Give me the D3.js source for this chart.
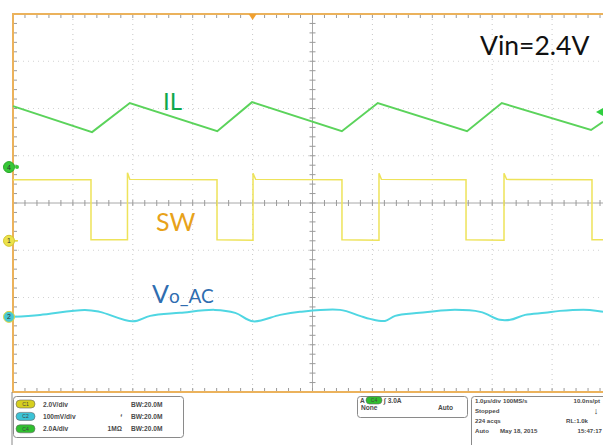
<!DOCTYPE html>
<html><head><meta charset="utf-8">
<script src="https://cdn.jsdelivr.net/npm/d3@7"></script>
<style>body{margin:0;background:#fff}svg{display:block}</style>
</head><body>
<svg id="c" width="603" height="445"></svg>
<script>
// ---------------- data (read from the scope capture) ----------------
const timeDivs = d3.range(0, 11);          // 1.0 µs/div, 10 divisions
const vertDivs = d3.range(-4, 5);          // 8 vertical divisions
// Channel 4: inductor current IL (2.0 A/div)
const ilOffsetDiv = 0.76, ilPerDiv = 2.0;
const ilTime = [0, 1.32, 1.95, 3.41, 3.99, 5.49, 6.09, 7.58, 8.16, 9.65, 9.85];
const ilAmps = [2.58, 1.48, 2.71, 1.52, 2.75, 1.52, 2.71, 1.52, 2.71, 1.57, 1.92];
const trigArrowAmps = 2.33;
// Channel 1: switch node SW (2.0 V/div)
const swOffsetDiv = -0.80, swPerDiv = 2.0;
const swTime = [0, 1.302, 1.302, 1.911, 1.911, 1.95, 3.406, 3.406, 4.007, 4.007, 4.05, 5.492, 5.492, 6.110, 6.110, 6.15, 7.563, 7.563, 8.197, 8.197, 8.24, 9.666, 9.666, 9.85];
const swVolt = [2.58, 2.58, 0.04, 0.04, 2.88, 2.60, 2.58, 0.04, 0.02, 2.86, 2.60, 2.58, 0.04, 0.02, 2.86, 2.60, 2.58, 0.04, 0.02, 2.86, 2.60, 2.58, 0.04, 0.04];
// Channel 2: output ripple Vo_AC (100 mV/div)
const voOffsetDiv = -2.41, voPerDiv = 100;
const voTime = [0, 0.45, 1.20, 1.45, 2.00, 2.29, 2.79, 3.37, 3.71, 4.01, 4.46, 4.79, 5.46, 5.79, 5.96, 6.21, 6.38, 6.79, 7.30, 7.80, 8.13, 8.30, 8.55, 8.88, 9.13, 9.63, 9.85];
const voMv   = [0, 4.2, 14.8, 10.6, -9.5, 2.1, 8.5, 14.8, 8.5, -9.5, 4.2, 10.6, 14.8, 2.1, -4.2, -8.5, 2.1, 8.5, 14.8, 10.6, -6.3, -6.3, 4.2, 8.5, 12.7, 14.8, 10.6];
// annotations
const traceLabels = ["IL", "SW", "V", "o_AC"];
const vinLabel = "Vin=2.4V";
const chanRows = [["C1", "2.0V/div", "", "BW:20.0M"], ["C2", "100mV/div", "ᶠ", "BW:20.0M"], ["C4", "2.0A/div", "1MΩ", "BW:20.0M"]];
const trigRow = ["A", "C4", "∫ 3.0A", "None", "Auto"];
const infoRows = [["1.0µs/div", "100MS/s", "10.0ns/pt"], ["Stopped", "", ""], ["224 acqs", "", "RL:1.0k"], ["Auto", "May 18, 2015", "15:47:17"]];

// ---------------- drawing ----------------
const svg = d3.select("#c");
const x = d3.scaleLinear().domain([0, 10]).range([13, 612]);
const y = d3.scaleLinear().domain([-4, 4]).range([392, 14]);
const ORANGE = "#ebb25c", TICK = "#9a9a9a";

// graticule (dotted)
const g = svg.append("g");
timeDivs.filter(d => d > 0 && d < 10 && d !== 5).forEach(d =>
  g.append("line").attr("x1", x(d)).attr("x2", x(d)).attr("y1", y(4)).attr("y2", y(-4))
   .attr("stroke", "#c8c8c8").attr("stroke-width", 1).attr("stroke-dasharray", "1,4"));
vertDivs.filter(d => d > -4 && d < 4 && d !== 0).forEach(d =>
  g.append("line").attr("x1", x(0)).attr("x2", x(10)).attr("y1", y(d)).attr("y2", y(d))
   .attr("stroke", "#d2d2d2").attr("stroke-width", 1).attr("stroke-dasharray", "1,4"));

// centre axes with minor ticks
g.append("line").attr("x1", x(0)).attr("x2", x(10)).attr("y1", y(0)).attr("y2", y(0)).attr("stroke", "#a8a8a8");
g.append("line").attr("x1", x(5)).attr("x2", x(5)).attr("y1", y(4)).attr("y2", y(-4)).attr("stroke", "#a8a8a8");
const minorT = d3.range(0, 10.001, 0.2), minorV = d3.range(-4, 4.001, 0.2);
minorT.forEach(t => {
  g.append("line").attr("x1", x(t)).attr("x2", x(t)).attr("y1", y(0) - 3).attr("y2", y(0) + 3).attr("stroke", TICK);
  g.append("line").attr("x1", x(t)).attr("x2", x(t)).attr("y1", y(4)).attr("y2", y(4) + 4).attr("stroke", TICK);
  g.append("line").attr("x1", x(t)).attr("x2", x(t)).attr("y1", y(-4)).attr("y2", y(-4) - 4).attr("stroke", TICK);
});
minorV.forEach(v => {
  g.append("line").attr("x1", x(5) - 3).attr("x2", x(5) + 3).attr("y1", y(v)).attr("y2", y(v)).attr("stroke", TICK);
  g.append("line").attr("x1", x(0)).attr("x2", x(0) + 4).attr("y1", y(v)).attr("y2", y(v)).attr("stroke", TICK);
});

// frame (orange)
g.append("line").attr("x1", x(0)).attr("x2", 603).attr("y1", y(4)).attr("y2", y(4)).attr("stroke", ORANGE).attr("stroke-width", 2);
g.append("line").attr("x1", x(0)).attr("x2", 603).attr("y1", y(-4)).attr("y2", y(-4)).attr("stroke", ORANGE).attr("stroke-width", 2);
g.append("line").attr("x1", x(0)).attr("x2", x(0)).attr("y1", y(4) - 1).attr("y2", y(-4) + 1).attr("stroke", ORANGE).attr("stroke-width", 2);
// trigger position marker
g.append("path").attr("d", `M${x(4) - 4},${y(4)} L${x(4) + 4},${y(4)} L${x(4)},${y(4) + 6}Z`).attr("fill", "#f0a030");

// traces
const line = d3.line();
const ilPts = ilTime.map((t, i) => [x(t), y(ilOffsetDiv + ilAmps[i] / ilPerDiv)]);
const swPts = swTime.map((t, i) => [x(t), y(swOffsetDiv + swVolt[i] / swPerDiv)]);
const voPts = voTime.map((t, i) => [x(t), y(voOffsetDiv + voMv[i] / voPerDiv)]);
svg.append("path").attr("d", line(swPts)).attr("fill", "none").attr("stroke", "#eee35a").attr("stroke-width", 1.5);
svg.append("path").attr("d", d3.line().curve(d3.curveCatmullRom)(voPts)).attr("fill", "none").attr("stroke", "#4fd6e2").attr("stroke-width", 2);
svg.append("path").attr("d", line(ilPts)).attr("fill", "none").attr("stroke", "#5bd35b").attr("stroke-width", 2);

// channel ground markers
function marker(cy, fill, stroke, label) {
  svg.append("circle").attr("cx", 9).attr("cy", cy).attr("r", 5.5).attr("fill", fill).attr("stroke", stroke).attr("stroke-width", 1);
  svg.append("text").attr("x", 9).attr("y", cy + 2.5).attr("text-anchor", "middle").attr("font-size", 7)
     .attr("font-family", "Liberation Sans").attr("fill", "#333").text(label);
}
marker(y(ilOffsetDiv), "#36c836", "#2aa82a", "4");
svg.append("circle").attr("cx", 17).attr("cy", y(ilOffsetDiv)).attr("r", 2).attr("fill", "#36c836");
marker(y(swOffsetDiv), "#ece24a", "#d4c830", "1");
svg.append("line").attr("x1", 15).attr("x2", 18).attr("y1", y(swOffsetDiv)).attr("y2", y(swOffsetDiv)).attr("stroke", "#e8dc3c").attr("stroke-width", 1.5);
marker(y(voOffsetDiv), "#46c8d2", "#e2d640", "2");
// trigger level arrow (right)
const trigY = y(ilOffsetDiv + trigArrowAmps / ilPerDiv);
svg.append("path").attr("d", `M596,${trigY} L603,${trigY - 4} L603,${trigY + 4}Z`).attr("fill", "#2fcf3f");

// labels
const FONT = "Lato, 'Open Sans', sans-serif";
svg.append("text").attr("x", 163).attr("y", 110).attr("font-family", FONT).attr("font-size", 24).attr("fill", "#0fa84c").text(traceLabels[0]);
svg.append("text").attr("x", 156).attr("y", 231).attr("font-family", FONT).attr("font-size", 25).attr("fill", "#e8a21a").text(traceLabels[1]);
const vo = svg.append("text").attr("x", 152).attr("y", 303).attr("font-family", FONT).attr("fill", "#2f6db0");
vo.append("tspan").attr("font-size", 25).text(traceLabels[2]);
vo.append("tspan").attr("font-size", 19).text(traceLabels[3]);
svg.append("text").attr("x", 480).attr("y", 55).attr("font-family", FONT).attr("font-size", 26.5).attr("fill", "#111").text(vinLabel);

// ---------------- bottom status panel ----------------
const SF = "'Liberation Sans', Arial, sans-serif";
const small = (sel, xx, yy, txt, anchor, fs) => sel.append("text").attr("x", xx).attr("y", yy).attr("font-family", SF)
  .attr("font-size", fs || 6.6).attr("font-weight", "bold").attr("fill", "#4a4a4a").attr("text-anchor", anchor || "start").text(txt);
const p = svg.append("g");
p.append("line").attr("x1", 12).attr("x2", 12).attr("y1", 392).attr("y2", 445).attr("stroke", "#888");
p.append("rect").attr("x", 13.5).attr("y", 396.5).attr("width", 170).attr("height", 41).attr("rx", 3).attr("fill", "#fff").attr("stroke", "#8a8a8a");
const badgeFill = { C1: "#d6cf1e", C2: "#3cc3d6", C4: "#2fbf2f" };
chanRows.forEach((r, i) => {
  const cy = 404 + i * 12.4;
  p.append("rect").attr("x", 16).attr("y", cy - 4).attr("width", 19).attr("height", 8).attr("rx", 4)
   .attr("fill", badgeFill[r[0]]).attr("stroke", "#666").attr("stroke-width", 0.6);
  p.append("text").attr("x", 25.5).attr("y", cy + 2).attr("text-anchor", "middle").attr("font-size", 5).attr("font-family", SF).attr("fill", "#444").text(r[0]);
  small(p, 43, cy + 2.5, r[1]);
  small(p, 122, cy + 2.5, r[2], "end");
  small(p, 131, cy + 2.5, r[3]);
});
p.append("rect").attr("x", 357.5).attr("y", 396.5).attr("width", 110).attr("height", 21).attr("rx", 3).attr("fill", "#fff").attr("stroke", "#8a8a8a");
small(p, 360, 403, trigRow[0]);
p.append("rect").attr("x", 366).attr("y", 396.5).attr("width", 16).attr("height", 7.5).attr("rx", 3.7).attr("fill", "#2fbf2f").attr("stroke", "#666").attr("stroke-width", 0.6);
p.append("text").attr("x", 374).attr("y", 402.3).attr("text-anchor", "middle").attr("font-size", 5).attr("font-family", SF).attr("fill", "#444").text(trigRow[1]);
small(p, 384, 403, trigRow[2]);
small(p, 361, 410, trigRow[3]);
small(p, 453, 410, trigRow[4], "end");
p.append("rect").attr("x", 471.5).attr("y", 396.5).attr("width", 140).attr("height", 60).attr("rx", 3).attr("fill", "#fff").attr("stroke", "#8a8a8a");
const infoX = [[475, 503, 600], [475, 0, 0], [475, 0, 588], [475, 500, 602]];
infoRows.forEach((r, i) => {
  const yy = 403 + i * 10;
  small(p, infoX[i][0], yy, r[0], "start", 6.1);
  if (r[1]) small(p, infoX[i][1], yy, r[1], "start", 6.1);
  if (r[2]) small(p, infoX[i][2], yy, r[2], "end", 6.1);
});
p.append("text").attr("x", 596).attr("y", 414).attr("text-anchor", "middle").attr("font-size", 9).attr("font-weight", "bold").attr("fill", "#333").text("↓");
</script>
</body></html>
